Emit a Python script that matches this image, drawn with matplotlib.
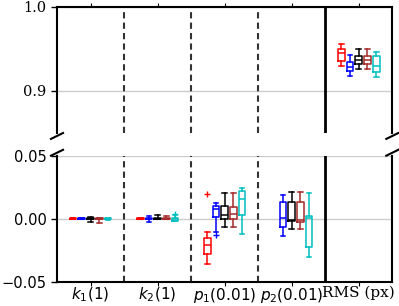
import matplotlib
matplotlib.use("Agg")
import matplotlib.pyplot as plt

categories = ["$k_1(1)$", "$k_2(1)$", "$p_1(0.01)$", "$p_2(0.01)$", "RMS (px)"]
series_names = ["red", "blue", "black", "brown", "cyan"]
series_colors = ["#ff0000", "#0000ff", "#000000", "#a52a2a", "#00bfbf"]

# [whislo, q1, median, q3, whishi] per category (None = not shown)
red_stats = [[-0.0006, -0.0003, 0.0, 0.0003, 0.0005],
             [-0.0005, -0.0003, 0.0001, 0.0004, 0.0006],
             [-0.0359, -0.0279, -0.0207, -0.0154, -0.0106],
             None,
             [0.9298, 0.9354, 0.9445, 0.9493, 0.9552]]
blue_stats = [[-0.0004, -0.0002, 0.0, 0.0002, 0.0004],
              [-0.0030, -0.0003, 0.0, 0.0003, 0.0024],
              [-0.0105, 0.0010, 0.0077, 0.0104, 0.0125],
              [-0.0135, -0.0069, 0.0002, 0.0133, 0.0186],
              [0.9179, 0.9235, 0.9286, 0.9345, 0.9425]]
black_stats = [[-0.0030, -0.0004, 0.0, 0.0003, 0.0010],
               [-0.0004, -0.0002, 0.0, 0.0003, 0.0026],
               [-0.0064, 0.0000, 0.0032, 0.0098, 0.0202],
               [-0.0085, -0.0022, -0.0014, 0.0133, 0.0210],
               [0.9258, 0.9314, 0.9365, 0.9413, 0.9493]]
brown_stats = [[-0.0037, -0.0004, 0.0, 0.0003, 0.0005],
               [-0.0004, -0.0002, 0.0, 0.0003, 0.0024],
               [-0.0064, 0.0000, 0.0034, 0.0096, 0.0202],
               [-0.0085, -0.0026, -0.0008, 0.0133, 0.0210],
               [0.9258, 0.9314, 0.9367, 0.9413, 0.9493]]
cyan_stats = [[-0.0008, -0.0006, 0.0, 0.0006, 0.0008],
              [-0.0020, -0.0018, -0.0005, 0.0005, 0.0032],
              [-0.0125, 0.0030, 0.0159, 0.0223, 0.0241],
              [-0.0300, -0.0226, 0.0006, 0.0018, 0.0207],
              [0.9167, 0.9223, 0.9290, 0.9417, 0.9457]]
# outliers per category index
red_fliers = {2: [0.0194]}
blue_fliers = {2: [-0.0128]}
black_fliers = {}
brown_fliers = {}
cyan_fliers = {1: [0.0040]}

all_stats = [red_stats, blue_stats, black_stats, brown_stats, cyan_stats]
all_fliers = [red_fliers, blue_fliers, black_fliers, brown_fliers, cyan_fliers]

W, H = 399, 306
fig = plt.figure(figsize=(W / 100, H / 100), dpi=100)
L, R = 57 / W, 392.3 / W
ax_top = fig.add_axes([L, 1 - 133 / H, R - L, (133 - 6.7) / H])
ax_bot = fig.add_axes([L, 1 - 281.7 / H, R - L, (281.7 - 155.7) / H])

positions = list(range(1, len(categories) + 1))
offset_step = 0.13

for ax in (ax_top, ax_bot):
    for si, (stats, fl, col) in enumerate(zip(all_stats, all_fliers, series_colors)):
        bstats, pos = [], []
        for ci, s in enumerate(stats):
            if s is None:
                continue
            bstats.append(dict(whislo=s[0], q1=s[1], med=s[2], q3=s[3], whishi=s[4],
                               fliers=fl.get(ci, [])))
            pos.append(positions[ci] + (si - 2) * offset_step)
        lw = 1.1
        ax.bxp(bstats, positions=pos, widths=0.1, capwidths=0.07, manage_ticks=False,
               boxprops=dict(color=col, linewidth=lw),
               medianprops=dict(color=col, linewidth=lw),
               whiskerprops=dict(color=col, linewidth=lw),
               capprops=dict(color=col, linewidth=lw),
               flierprops=dict(marker="+", markeredgecolor=col, markersize=5,
                               markeredgewidth=1.0, linestyle="none"))
    for xv in (1.5, 2.5, 3.5):
        ax.axvline(xv, color="#333333", linewidth=1.5, linestyle=(0, (3, 2)), zorder=1)
    ax.axvline(4.5, color="black", linewidth=2.0, zorder=1)
    ax.set_xlim(0.5, 5.5)
    ax.yaxis.grid(True, color="#cccccc", linewidth=1.0)
    ax.set_axisbelow(True)
    ax.spines["left"].set_linewidth(1.5)
    ax.spines["right"].set_linewidth(1.5)
    ax.tick_params(axis="y", direction="out", length=4, width=1, labelsize=10.5)

ax_top.set_ylim(0.85, 1.0)
ax_top.set_yticks([0.9, 1.0])
ax_top.set_yticklabels(["0.9", "1.0"], family="DejaVu Serif")
ax_top.spines["bottom"].set_visible(False)
ax_top.spines["top"].set_linewidth(1.5)
ax_top.xaxis.tick_top()
ax_top.set_xticks(positions)
ax_top.tick_params(axis="x", direction="out", length=3, labeltop=False)

ax_bot.set_ylim(-0.05, 0.05)
ax_bot.set_yticks([-0.05, 0.0, 0.05])
ax_bot.set_yticklabels(["\u22120.05", "0.00", "0.05"])
ax_bot.spines["top"].set_visible(False)
ax_bot.spines["bottom"].set_linewidth(1.5)
ax_bot.set_xticks(positions)
ax_bot.set_xticklabels(categories, fontsize=11)
ax_bot.get_xticklabels()[-1].set_family("DejaVu Serif")
ax_bot.tick_params(axis="x", direction="out", length=3, pad=0)

# break marks
d = 0.018
kw = dict(color="k", clip_on=False, linewidth=1.5)
ax_top.plot((-d, d), (-d * 2.6, 0.0), transform=ax_top.transAxes, **kw)
ax_top.plot((1 - d, 1 + d), (-d * 2.6, 0.0), transform=ax_top.transAxes, **kw)
ax_bot.plot((-d, d), (1.0, 1 + d * 2.6), transform=ax_bot.transAxes, **kw)
ax_bot.plot((1 - d, 1 + d), (1.0, 1 + d * 2.6), transform=ax_bot.transAxes, **kw)

fig.savefig("out.png", dpi=100)
